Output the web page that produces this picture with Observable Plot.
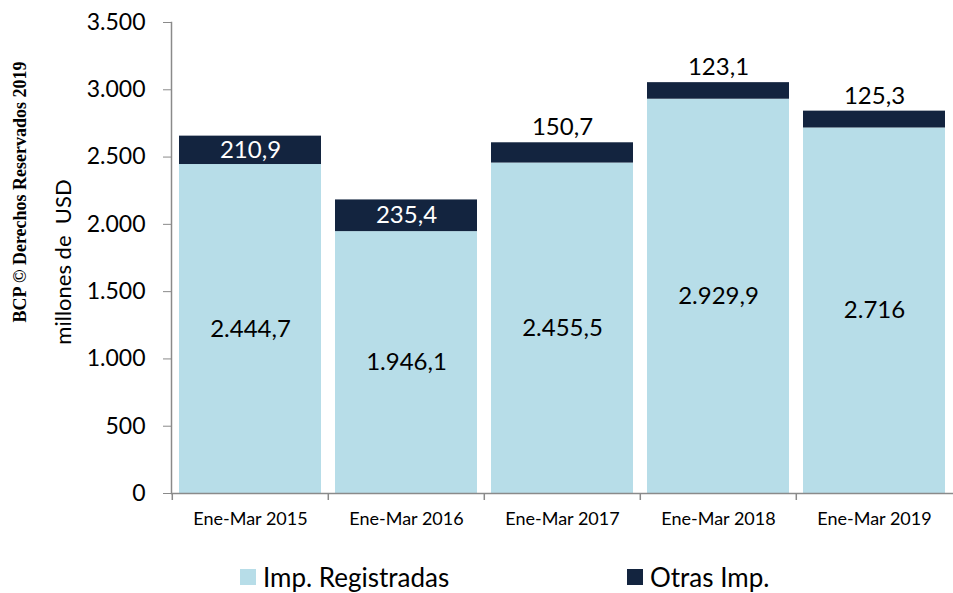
<!DOCTYPE html>
<html><head><meta charset="utf-8">
<script src="https://cdn.jsdelivr.net/npm/d3@7"></script>
<script src="https://cdn.jsdelivr.net/npm/@observablehq/plot@0.6"></script>
<style>
body{margin:0;background:#fff;font-family:Lato,"Open Sans",sans-serif;}
#wrap{position:relative;width:953px;height:593px;overflow:hidden;background:#fff;}
#legend{position:absolute;left:0;top:550px;width:953px;height:43px;font-size:26px;color:#000;}
.item{position:absolute;top:11px;display:flex;align-items:center;}
.sw{width:16px;height:16px;margin-right:7px;}
</style></head>
<body><div id="wrap"><div id="chart"></div><div id="legend"></div></div>
<script>
const periods = ["Ene-Mar 2015","Ene-Mar 2016","Ene-Mar 2017","Ene-Mar 2018","Ene-Mar 2019"];
const registradas = [2444.7, 1946.1, 2455.5, 2929.9, 2716];
const otras = [210.9, 235.4, 150.7, 123.1, 125.3];
const seriesNames = ["Imp. Registradas", "Otras Imp."];
const colors = ["#b7dde8", "#13243f"];
const yTicks = [0, 500, 1000, 1500, 2000, 2500, 3000, 3500];
const yLabel = "millones de  USD";
const copyright = "BCP © Derechos Reservados 2019";

const loc = d3.formatLocale({decimal: ",", thousands: ".", grouping: [3], currency: ["", ""]});
const fmt = loc.format(",.1~f");
const yFmt = loc.format(",d");

const rows = periods.flatMap((p, i) => [
  {period: p, series: seriesNames[0], value: registradas[i], y1: 0, y2: registradas[i]},
  {period: p, series: seriesNames[1], value: otras[i], y1: registradas[i], y2: registradas[i] + otras[i]}
]);
const regRows = rows.filter(d => d.series === seriesNames[0]);
const otrRows = rows.filter(d => d.series === seriesNames[1]);

const W = 953, H = 550, ML = 171, MR = 0, MT = 22, MB = 57;
const step = (W - ML - MR) / periods.length;
const grey = "#8a8a8a";

const plot = Plot.plot({
  width: W, height: H, marginLeft: ML, marginRight: MR, marginTop: MT, marginBottom: MB,
  style: {fontFamily: "Lato, 'Open Sans', sans-serif", background: "#fff", color: "#000", overflow: "visible"},
  x: {domain: periods, paddingInner: 0.09, paddingOuter: 0.045, label: null},
  y: {domain: [0, 3500], label: null},
  color: {domain: seriesNames, range: colors},
  marks: [
    Plot.barY(rows, {x: "period", y1: "y1", y2: "y2", fill: "series"}),
    Plot.text(regRows, {x: "period", y: d => d.value / 2, text: d => fmt(d.value), fontSize: 24, fill: "#000"}),
    Plot.text(otrRows.filter(d => d.value >= 200), {x: "period", y: d => d.y1 + d.value / 2, text: d => fmt(d.value), fontSize: 24, fill: "#fff"}),
    Plot.text(otrRows.filter(d => d.value < 200), {x: "period", y: "y2", dy: -15, text: d => fmt(d.value), fontSize: 24, fill: "#000"}),
    Plot.axisY({ticks: yTicks, tickFormat: yFmt, tickSize: 8, tickPadding: 18, fontSize: 23, stroke: grey, fill: "#000", label: null}),
    Plot.axisX({tickSize: 0, tickPadding: 19, fontSize: 18, fill: "#000", label: null}),
    Plot.ruleY([0], {stroke: grey, strokeWidth: 1.5}),
    Plot.frame({anchor: "left", stroke: grey, strokeWidth: 1.5}),
    Plot.ruleX(periods, {x: d => d, y1: 0, y2: 0, insetBottom: -7, dx: -step / 2, stroke: grey, strokeWidth: 1.5})
  ]
});
document.getElementById("chart").appendChild(plot);

const svg = d3.select(plot);
svg.append("text").attr("transform", `translate(65,262) rotate(-90)`)
  .attr("text-anchor", "middle").attr("dominant-baseline", "middle")
  .attr("font-size", 22).attr("fill", "#000").style("white-space", "pre").text(yLabel);
svg.append("text").attr("transform", `translate(22,192) rotate(-90)`)
  .attr("text-anchor", "middle").attr("dominant-baseline", "middle")
  .attr("font-family", "'Liberation Serif','DejaVu Serif',serif").attr("font-weight", "bold")
  .attr("font-size", 18).attr("fill", "#000").text(copyright);

const legend = document.getElementById("legend");
const legendX = [240, 627];
seriesNames.forEach((s, i) => {
  const it = document.createElement("div");
  it.className = "item"; it.style.left = legendX[i] + "px";
  it.innerHTML = `<div class="sw" style="background:${colors[i]}"></div><span>${s}</span>`;
  legend.appendChild(it);
});
</script></body></html>
